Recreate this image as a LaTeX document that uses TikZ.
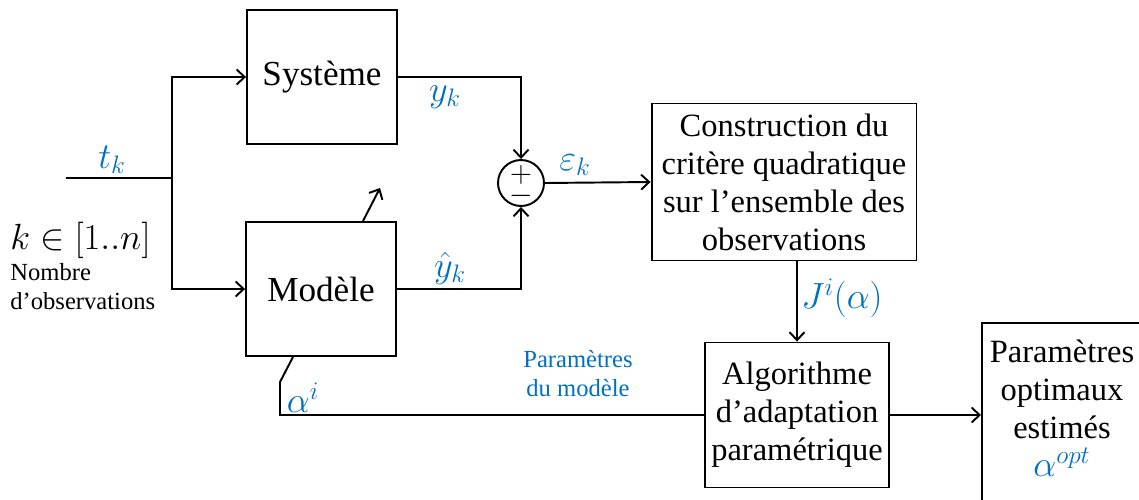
\documentclass[tikz,border=0pt]{standalone}
\usepackage{fontspec}
\setmainfont{Liberation Serif}
\usepackage{xcolor}
\usepackage{tikz}
\usetikzlibrary{arrows.meta, positioning, calc}
\definecolor{mathblue}{RGB}{0,112,192}
\tikzstyle{block} = [rectangle, draw=black, line width=1.1pt, text centered, align=center, font=\fontsize{18.5}{21.6}\selectfont]
\tikzstyle{bigblock} = [block, minimum width=3cm, minimum height=2.68cm, font=\fontsize{20}{24}\selectfont]
\tikzstyle{sum} = [circle, draw=black, line width=1.1pt, minimum size=0.92cm, inner sep=0pt]
\tikzstyle{sign} = [inner sep=0pt, font=\fontsize{16}{18}\selectfont]
\tikzstyle{arrow} = [line width=1.1pt, -{Straight Barb[length=1.6mm, width=3mm]}]
\tikzstyle{wire} = [line width=1.1pt]
\tikzstyle{sig} = [text=mathblue, inner sep=1pt, font=\fontsize{20}{24}\selectfont]
\tikzstyle{note} = [font=\fontsize{14}{16.5}\selectfont, align=center]

\begin{document}
\begin{tikzpicture}[x=0.02cm, y=-0.02cm]
\clip (0,0) rectangle (1139,500);
% blocks
\node (sys) [bigblock] at (322,77) {Système};
\node (mod) [bigblock] at (321,289) {Modèle};
\node (sum) [sum] at (521,183) {};
\node (plus) [sign] at ($(sum.center)+(0,-8)$) {$+$};
\node (minus) [sign] at ($(sum.center)+(0,13)$) {$-$};
\node (crit) [block, minimum width=5.3cm, minimum height=3.14cm] at (784,182) {Construction du\\critère quadratique\\sur l’ensemble des\\observations};
\node (algo) [block, minimum width=3.68cm, minimum height=2.9cm] at (797,415) {Algorithme\\d’adaptation\\paramétrique};
\node (opt) [draw=black, line width=1.1pt, minimum width=3.3cm, minimum height=4cm, anchor=north west] at (981,322) {};
\node (opttext) [align=center, font=\fontsize{18.5}{21.6}\selectfont] at (1062,408) {Paramètres\\optimaux\\estimés\\{\fontsize{22}{22}\selectfont\color{mathblue}$\alpha^{opt}$}};

% input
\coordinate (in) at (66,178);
\coordinate (split) at (172,178);
\coordinate (tune) at (380,188);
\coordinate (kink) at (280,382);
\draw [wire] (in) -- (split);
\draw [arrow] (split) |- (sys.west);
\draw [arrow] (split) |- (mod.west);
\draw [arrow] (sys.east) -| (sum.north);
\draw [arrow] (mod.east) -| (sum.south);
\draw [arrow] ([xshift=0.84cm]mod.north) -- (tune);
\draw [arrow] (sum.east) -- (crit.west);
\draw [arrow] (algo.north |- crit.south) -- (algo.north);
\draw [wire] ([xshift=-0.56cm]mod.south) -- (kink) |- (algo.west);
\draw [arrow] (algo.east) -- (algo.east -| opt.west);

% labels
\node (tk) [sig] at (112,160) {$t_k$};
\node (yk) [sig] at (445,97) {$y_k$};
\node (yhat) [sig] at (450,268) {$\hat{y}_k$};
\node (eps) [sig] at (575,165) {$\varepsilon_k$};
\node (crit val) [sig] at (842,298) {$J^i(\alpha)$};
\node (alpha) [sig] at (303,398) {$\alpha^i$};
\node (params) [note, text=mathblue] at (578,374) {Paramètres\\du modèle};
\node (range) [anchor=west, inner sep=0pt, font=\fontsize{20}{24}\selectfont] at (10,240) {$k\in[1..n]$};
\node (nobs) [note, align=left, anchor=west, inner sep=0pt] at (10,287) {Nombre\\d’observations};
\end{tikzpicture}
\end{document}
